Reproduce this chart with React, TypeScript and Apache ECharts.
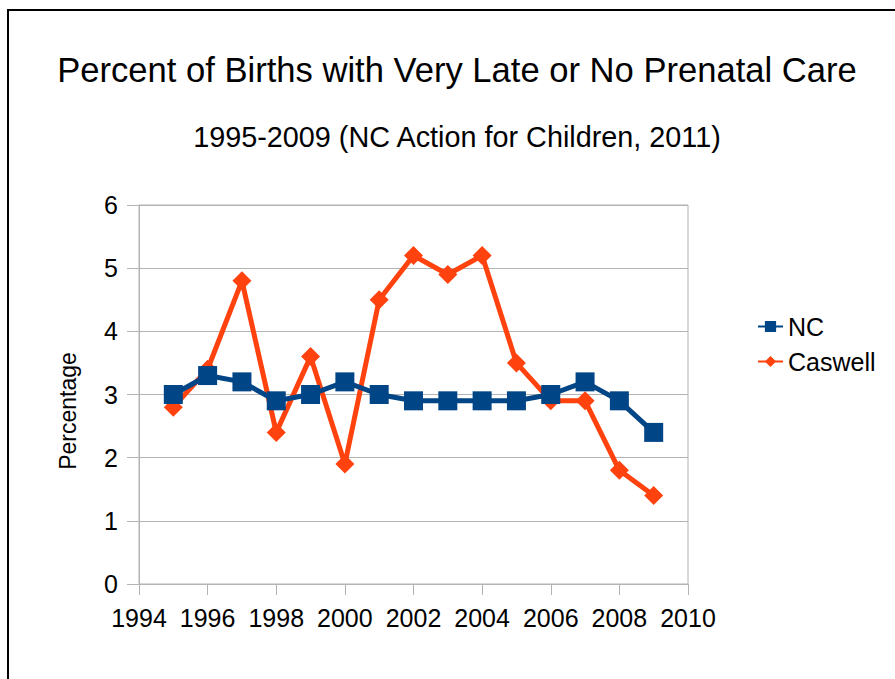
import React, { useEffect, useRef } from "react";
import * as echarts from "echarts";

const years = [1995, 1996, 1997, 1998, 1999, 2000, 2001, 2002, 2003, 2004, 2005, 2006, 2007, 2008, 2009];
const ncValues = [3.0, 3.3, 3.2, 2.9, 3.0, 3.2, 3.0, 2.9, 2.9, 2.9, 2.9, 3.0, 3.2, 2.9, 2.4];
const caswellValues = [2.8, 3.4, 4.8, 2.4, 3.6, 1.9, 4.5, 5.2, 4.9, 5.2, 3.5, 2.9, 2.9, 1.8, 1.4];
const seriesNames = ["NC", "Caswell"];
const titleText = "Percent of Births with Very Late or No Prenatal Care";
const subtitleText = "1995-2009 (NC Action for Children, 2011)";
const yAxisTitle = "Percentage";

const FONT = "'Liberation Sans', Arial, sans-serif";
const GRID = "#b3b3b3";

export default function App() {
  const ref = useRef<HTMLDivElement>(null);
  useEffect(() => {
    if (!ref.current) return;
    const chart = echarts.init(ref.current, null, { renderer: "svg" });
    chart.setOption({
      animation: false,
      backgroundColor: "#ffffff",
      textStyle: { fontFamily: FONT, color: "#000" },
      title: [
        {
          text: titleText,
          left: 452,
          top: 47,
          textAlign: "center",
          textStyle: { fontFamily: FONT, fontSize: 34.6, fontWeight: "normal", color: "#000" },
        },
        {
          text: subtitleText,
          left: 452,
          top: 117,
          textAlign: "center",
          textStyle: { fontFamily: FONT, fontSize: 28.8, fontWeight: "normal", color: "#000" },
        },
      ],
      graphic: [
        {
          type: "rect",
          shape: { x: 8, y: 10, width: 1000, height: 1000 },
          style: { fill: "none", stroke: "#000", lineWidth: 2 },
          silent: true,
        },
        {
          type: "text",
          x: 68,
          y: 411,
          rotation: Math.PI / 2,
          style: {
            text: yAxisTitle,
            fontFamily: FONT,
            fontSize: 23,
            fill: "#000",
            align: "center",
            verticalAlign: "middle",
          },
        },
      ],
      legend: {
        orient: "vertical",
        left: 752,
        top: 309,
        itemWidth: 25,
        itemHeight: 14,
        itemGap: 10,
        data: seriesNames,
        textStyle: { fontFamily: FONT, fontSize: 25, color: "#000" },
      },
      grid: {
        left: 139,
        right: 207,
        top: 205,
        bottom: 95,
        show: true,
        borderColor: GRID,
        borderWidth: 1,
      },
      xAxis: {
        type: "value",
        min: 1994,
        max: 2010,
        interval: 2,
        splitLine: { show: false },
        axisLine: { show: true, lineStyle: { color: GRID, width: 1 } },
        axisTick: { show: true, length: 11, lineStyle: { color: GRID } },
        axisLabel: {
          margin: 21,
          fontFamily: FONT,
          fontSize: 25,
          color: "#000",
          formatter: (v: number) => String(v),
        },
      },
      yAxis: {
        type: "value",
        min: 0,
        max: 6,
        interval: 1,
        splitLine: { show: true, lineStyle: { color: GRID, width: 1 } },
        axisLine: { show: true, lineStyle: { color: GRID, width: 1 } },
        axisTick: { show: true, length: 12, lineStyle: { color: GRID } },
        axisLabel: { margin: 21, fontFamily: FONT, fontSize: 25, color: "#000" },
      },
      series: [
        {
          name: seriesNames[0],
          type: "line",
          data: years.map((y, i) => [y, ncValues[i]]),
          symbol: "rect",
          symbolSize: 19,
          z: 3,
          itemStyle: { color: "#004586" },
          lineStyle: { color: "#004586", width: 5 },
        },
        {
          name: seriesNames[1],
          type: "line",
          data: years.map((y, i) => [y, caswellValues[i]]),
          symbol: "diamond",
          symbolSize: 19,
          z: 2,
          itemStyle: { color: "#ff420e" },
          lineStyle: { color: "#ff420e", width: 5 },
        },
      ],
    });
    return () => chart.dispose();
  }, []);
  return (
    <div
      ref={ref}
      style={{ position: "fixed", left: 0, top: 0, width: 895, height: 679 }}
    />
  );
}
